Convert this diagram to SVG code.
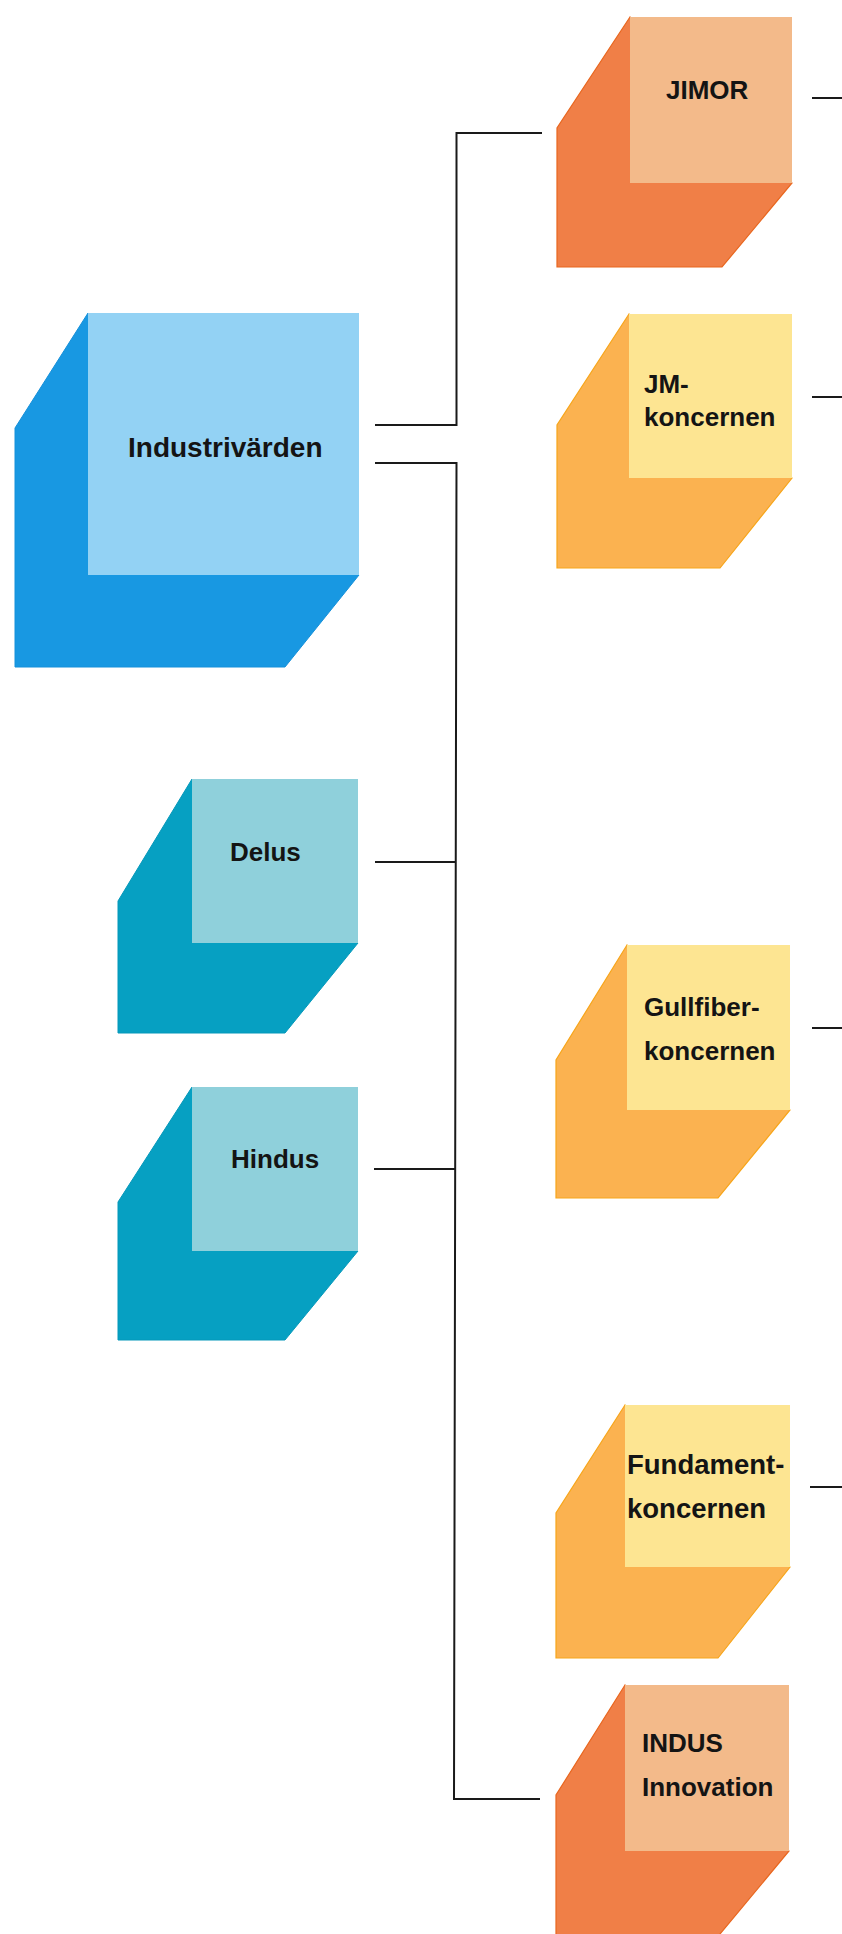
<svg xmlns="http://www.w3.org/2000/svg" width="842" height="1934" viewBox="0 0 842 1934">
<style>
.lbl{font-family:"Liberation Sans",Arial,sans-serif;font-weight:bold;font-size:26px;fill:#141414}
.conn{fill:none;stroke:#1a1a1a;stroke-width:2}
.bSide{fill:#1898E2;stroke:#1590DA;stroke-width:1}
.bFront{fill:#93D2F4}
.tSide{fill:#06A0C2;stroke:#0598BA;stroke-width:1}
.tFront{fill:#8FD0DB}
.pSide{fill:#F07F47;stroke:#E8661E;stroke-width:1.2}
.pFront{fill:#F3BA8A}
.ySide{fill:#FBB250;stroke:#F7A51A;stroke-width:1.2}
.yFront{fill:#FDE592}
</style>
<rect width="842" height="1934" fill="#ffffff"/>
<g id="connectors">
<path class="conn" d="M375,425 H456.5 V133 H542"/>
<path class="conn" d="M375,463 H456.5 L454,1799 H540"/>
<path class="conn" d="M375,862 H455.5"/>
<path class="conn" d="M374,1169 H455"/>
<path class="conn" d="M812,98 H842"/>
<path class="conn" d="M812,397 H842"/>
<path class="conn" d="M812,1028 H842"/>
<path class="conn" d="M810,1487 H842"/>
</g>
<g id="industrivarden">
<polygon class="bSide" points="88,313 15,428 15,667 285,667 359,575"/>
<rect class="bFront" x="88" y="313" width="271" height="262"/>
<text class="lbl" x="128" y="457" style="font-size:28px">Industrivärden</text>
</g>
<g id="jimor">
<polygon class="pSide" points="630,17 557,128 557,267 722,267 792,183"/>
<rect class="pFront" x="630" y="17" width="162" height="166"/>
<text class="lbl" x="666" y="99">JIMOR</text>
</g>
<g id="jm">
<polygon class="ySide" points="629,314 557,425 557,568 720,568 792,478"/>
<rect class="yFront" x="629" y="314" width="163" height="164"/>
<text class="lbl" x="644" y="393">JM-</text>
<text class="lbl" x="644" y="426">koncernen</text>
</g>
<g id="delus">
<polygon class="tSide" points="192,779 118,901 118,1033 285,1033 358,943"/>
<rect class="tFront" x="192" y="779" width="166" height="164"/>
<text class="lbl" x="230" y="861">Delus</text>
</g>
<g id="hindus">
<polygon class="tSide" points="192,1087 118,1202 118,1340 285,1340 358,1251"/>
<rect class="tFront" x="192" y="1087" width="166" height="164"/>
<text class="lbl" x="231" y="1168">Hindus</text>
</g>
<g id="gullfiber">
<polygon class="ySide" points="627,945 556,1060 556,1198 718,1198 790,1110"/>
<rect class="yFront" x="627" y="945" width="163" height="165"/>
<text class="lbl" x="644" y="1016">Gullfiber-</text>
<text class="lbl" x="644" y="1060">koncernen</text>
</g>
<g id="fundament">
<polygon class="ySide" points="625,1405 556,1513 556,1658 718,1658 790,1567"/>
<rect class="yFront" x="625" y="1405" width="165" height="162"/>
<text class="lbl" x="627" y="1474" style="font-size:27.5px">Fundament-</text>
<text class="lbl" x="627" y="1518" style="font-size:27.5px">koncernen</text>
</g>
<g id="indus">
<polygon class="pSide" points="625,1685 556,1795 556,1940 715,1940 789,1851"/>
<rect class="pFront" x="625" y="1685" width="164" height="166"/>
<text class="lbl" x="642" y="1752">INDUS</text>
<text class="lbl" x="642" y="1796">Innovation</text>
</g>
</svg>
